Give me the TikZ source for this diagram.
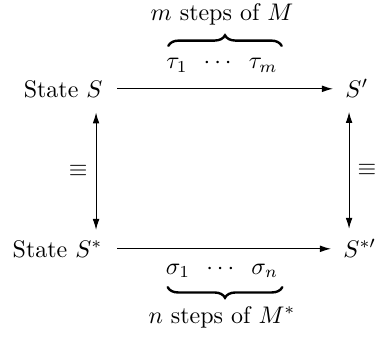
\documentclass[tikz,border=0pt]{standalone}
\usetikzlibrary{arrows.meta,decorations.pathreplacing,calc}
\begin{document}
\begin{tikzpicture}[x=0.4167pt,y=-0.4167pt,
  lbl/.style={inner sep=0pt},
  arr/.style={draw=black,line width=0.45pt,-{Latex[length=4.6pt,width=2.8pt]}},
  darr/.style={draw=black,line width=0.45pt,{Latex[length=4.6pt,width=2.8pt]}-{Latex[length=4.6pt,width=2.8pt]}},
  brc/.style={draw=black,line width=1pt,line cap=round,decorate,decoration={brace,amplitude=4.4pt}}]
\useasboundingbox (0,0) rectangle (377,344);
% states
\node[lbl,anchor=base east] (S) at (103,97) {State $S$};
\node[lbl,anchor=base west] (Sp) at (345,97) {$S'$};
\node[lbl,anchor=base east] (Ss) at (103,257) {State $S^*$};
\node[lbl,anchor=base west] (Ssp) at (343,257) {$S^{*\prime}$};
% horizontal arrows
\draw[arr,shorten <=6pt,shorten >=5pt] (S.east) -- (S.east -| Sp.west);
\draw[arr,shorten <=6pt,shorten >=5pt] (Ss.east) -- (Ss.east -| Ssp.west);
% vertical arrows
\draw[darr] ([xshift=-2.9pt,yshift=-6pt]S.south east) -- ([xshift=-2.9pt,yshift=4pt]S.south east |- Ss.north)
  node[midway,left,inner sep=3.3pt] (eqL) {$\equiv$};
\draw[darr] ([xshift=1.7pt,yshift=-6pt]Sp.south west) -- ([xshift=1.7pt,yshift=4pt]Sp.south west |- Ssp.north)
  node[midway,right,inner sep=3.3pt] (eqR) {$\equiv$};
% top brace
\node[lbl,anchor=base] (tau) at (222,69) {$\tau_1\hspace{5pt}\cdots\hspace{5.5pt}\tau_m$};
\node[lbl,anchor=base] (topl) at (222,21) {$m$ steps of $M$};
\draw[brc] ([xshift=1pt,yshift=5pt]tau.north west) -- ([xshift=1.5pt,yshift=5pt]tau.north east);
% bottom brace
\node[lbl,anchor=base] (sig) at (222,274) {$\sigma_1\hspace{5pt}\cdots\hspace{5.5pt}\sigma_n$};
\node[lbl,anchor=base] (botl) at (222,323) {$n$ steps of $M^*$};
\draw[brc] ([xshift=1.5pt,yshift=-3.8pt]sig.south east) -- ([xshift=1pt,yshift=-3.8pt]sig.south west);
\end{tikzpicture}
\end{document}
